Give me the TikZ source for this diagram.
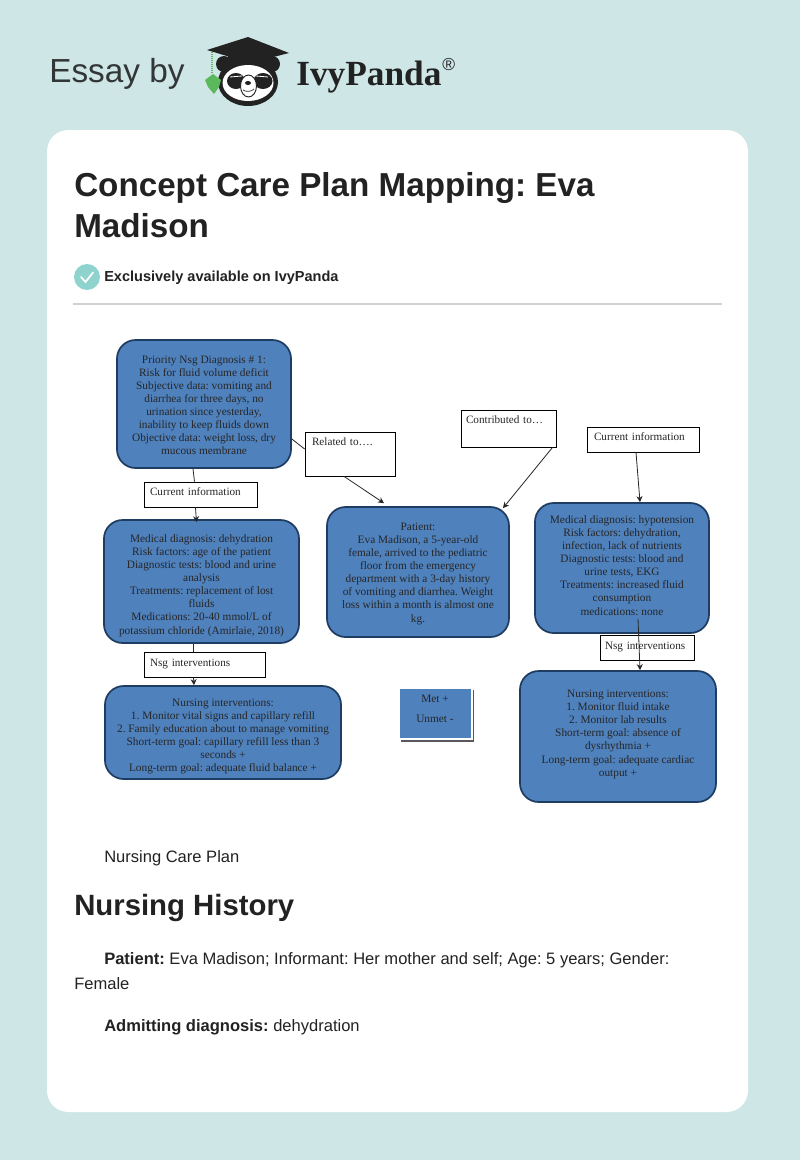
\documentclass[tikz,border=0pt]{standalone}
\usepackage{fontspec}
\usetikzlibrary{arrows.meta}
\setmainfont{Liberation Sans}
\newfontfamily\diagfont{Liberation Serif}
\def\px{0.75pt}
\newcommand{\topdrop}[1]{\rule{0pt}{#1}}
\newcommand{\botlift}[1]{\rule[-#1]{0pt}{#1}}
\definecolor{pagebg}{HTML}{CEE6E6}
\definecolor{boxblue}{HTML}{4F81BD}
\definecolor{boxedge}{HTML}{1F3D63}
\definecolor{inktext}{HTML}{222222}
\definecolor{tealcheck}{HTML}{8FD3CF}
\definecolor{leafgreen}{HTML}{5CB85C}
\tikzset{
  planbox/.style={draw=boxedge, line width=1.3pt, fill=boxblue, rounded corners=14pt, align=center, inner sep=0pt,
    text=black!85, font=\diagfont\fontsize{8.5pt}{9.8pt}\selectfont},
  tagbox/.style={draw=black, line width=0.6pt, fill=white, inner sep=0pt, text=black!85, align=left,
    font=\diagfont\fontsize{8.4pt}{9.8pt}\selectfont},
  pagetext/.style={anchor=base west, inner sep=0pt, text=inktext, font=\fontsize{12.4pt}{14pt}\selectfont},
  headtext/.style={anchor=base west, inner sep=0pt, text=inktext, font=\bfseries\fontsize{24.9pt}{30pt}\selectfont},
  link/.style={draw=black!85, line width=0.6pt},
  linkarrow/.style={link, -{Stealth[length=4.5pt, width=4.5pt]}},
}
\begin{document}
\frenchspacing
\begin{tikzpicture}[x=\px, y=-\px]
  \fill[pagebg] (0,0) rectangle (800,1160);
  \useasboundingbox (0,0) rectangle (800,1160);
  \fill[white, rounded corners=16pt] (47,130) rectangle (748,1112);
  % brand row
  \node[anchor=base west, inner sep=0pt, text=inktext!90!pagebg, font=\fontsize{25pt}{30pt}\selectfont] (essayby) at (49,82) {Essay by};
  \node[anchor=base west, inner sep=0pt, text=inktext, font=\diagfont\bfseries\fontsize{26.5pt}{30pt}\selectfont] (brand) at (296,85) {IvyPanda};
  \node[anchor=north west, inner sep=0pt, text=inktext, font=\fontsize{13pt}{14pt}\selectfont] (regmark) at (442,58) {\textregistered};
  % panda
  \fill[inktext] (224,64) circle (8);
  \fill[inktext] (272,64) circle (8);
  \fill[inktext] (248,82) ellipse (30 and 24);
  \fill[white] (248,83) ellipse (25.5 and 18);
  \fill[inktext] (228,55) -- (228,66) .. controls (238,63) and (258,63) .. (269,66) -- (269,55) -- cycle;
  \fill[inktext] (248,37) -- (207,50) -- (250,63) -- (289,53) -- cycle;
  \fill[inktext] (236,81) ellipse (9 and 8);
  \fill[inktext] (263,81) ellipse (9.5 and 8);
  \draw[white, line width=0.6pt] (230,77) -- (242,76);
  \draw[white, line width=0.6pt] (256,76) -- (268,77);
  \draw[inktext, line width=0.7pt, fill=white] (248.5,86) ellipse (8 and 11);
  \fill[inktext] (248,83) ellipse (3 and 2);
  \draw[inktext, line width=0.5pt] (243,90) .. controls (246,92) and (251,92) .. (254,89);
  \draw[leafgreen, line width=0.9pt, dash pattern=on 1pt off 0.5pt] (212,52) -- (212,74);
  \fill[leafgreen] (213,74) -- (221,80) -- (219,87) -- (214,94) -- (208,87) -- (205,80) -- cycle;
  % title
  \node[headtext] (titlea) at (74,196) {Concept Care Plan Mapping: Eva};
  \node[headtext] (titleb) at (74,237) {Madison};
  \node[fill=tealcheck, circle, minimum size=26*\px, inner sep=0pt] (checkdot) at (87,277) {};
  \draw[white, line width=1.3pt, line cap=round, line join=round] (81,277) -- (85.5,282) -- (93,272.5);
  \node[anchor=base west, inner sep=0pt, text=inktext, font=\bfseries\fontsize{10.9pt}{13pt}\selectfont] (exclusive) at (104,281) {Exclusively available on IvyPanda};
  \draw[black!18, line width=0.9pt] (73,304) -- (722,304);
  % plan boxes
  \node[planbox, minimum width=174*\px, minimum height=128*\px] (priority) at (204,404) {\topdrop{7.5pt}Priority Nsg Diagnosis \# 1:\\Risk for fluid volume deficit\\Subjective data: vomiting and\\diarrhea for three days, no\\urination since yesterday,\\inability to keep fluids down\\Objective data: weight loss, dry\\mucous membrane};
  \node[planbox, minimum width=195*\px, minimum height=123*\px] (meda) at (201.5,581.5) {\topdrop{12pt}Medical diagnosis: dehydration\\Risk factors: age of the patient\\Diagnostic tests: blood and urine\\analysis\\Treatments: replacement of lost\\fluids\\Medications: 20-40 mmol/L of\\potassium chloride (Amirlaie, 2018)};
  \node[planbox, minimum width=182*\px, minimum height=130*\px] (patient) at (418,572) {\topdrop{8.3pt}Patient:\\Eva Madison, a 5-year-old\\female, arrived to the pediatric\\floor from the emergency\\department with a 3-day history\\of vomiting and diarrhea. Weight\\loss within a month is almost one\\kg.};
  \node[planbox, minimum width=174*\px, minimum height=130*\px] (medb) at (622,568) {Medical diagnosis: hypotension\\Risk factors: dehydration,\\infection, lack of nutrients\\Diagnostic tests: blood and\\urine tests, EKG\\Treatments: increased fluid\\consumption\\medications: none\botlift{4pt}};
  \node[planbox, minimum width=236*\px, minimum height=93*\px] (nursea) at (223,732.5) {\topdrop{11.25pt}Nursing interventions:\\1. Monitor vital signs and capillary refill\\2. Family education about to manage vomiting\\Short-term goal: capillary refill less than 3\\seconds +\\Long-term goal: adequate fluid balance +};
  \node[planbox, minimum width=196*\px, minimum height=131*\px] (nurseb) at (618,736.5) {Nursing interventions:\\1. Monitor fluid intake\\2. Monitor lab results\\Short-term goal: absence of\\dysrhythmia +\\Long-term goal: adequate cardiac\\output +\botlift{5pt}};
  % key
  \node[fill=black!65, minimum width=73*\px, minimum height=52*\px, inner sep=0pt] (keyshadow) at (437.5,715.5) {};
  \node[fill=boxblue, draw=white, line width=1.5pt, minimum width=73*\px, minimum height=51*\px, align=center, inner sep=0pt, text=black!85,
    font=\diagfont\fontsize{8.5pt}{15pt}\selectfont] (key) at (435,713.5) {Met +\\Unmet -\botlift{7.5pt}};
  % tag boxes
  \node[tagbox, minimum width=113*\px, minimum height=25*\px, text width=101*\px, text height=9.75pt, text depth=9pt] (infoa) at (200.5,494.5) {Current information};
  \node[tagbox, minimum width=90*\px, minimum height=44*\px, text width=76*\px, text height=9.75pt, text depth=23.25pt] (related) at (350,454) {Related to….};
  \node[tagbox, minimum width=95*\px, minimum height=37*\px, text width=85*\px, text height=9.75pt, text depth=18pt] (contrib) at (508.5,428.5) {Contributed to…};
  \node[tagbox, minimum width=112*\px, minimum height=25*\px, text width=98*\px, text height=9.75pt, text depth=9pt] (infob) at (643,439.5) {Current information};
  \node[tagbox, minimum width=121*\px, minimum height=25*\px, text width=109*\px, text height=10.5pt, text depth=8.25pt] (nsga) at (204.5,664.5) {Nsg interventions};
  \node[tagbox, minimum width=94*\px, minimum height=25*\px, text width=84*\px, text height=10.5pt, text depth=8.25pt] (nsgb) at (647,647.5) {Nsg interventions};
  % connectors
  \draw[link] ([shift={(-11,0)}]priority.south) -- ([shift={(-6,0)}]infoa.north);
  \draw[linkarrow] ([shift={(-5,0)}]infoa.south) -- ([shift={(-5,3)}]meda.north);
  \draw[link] ([shift={(0,35)}]priority.east) -- ([shift={(0,-5)}]related.west);
  \draw[linkarrow] ([shift={(-6,0)}]related.south) -- ([shift={(-34,-3)}]patient.north);
  \draw[linkarrow] ([shift={(44,0)}]contrib.south) -- ([shift={(85,2)}]patient.north);
  \draw[linkarrow] ([shift={(-7,0)}]infob.south) -- ([shift={(18,0)}]medb.north);
  \draw[link] ([shift={(-8,0)}]meda.south) -- ([shift={(-11,0)}]nsga.north);
  \draw[linkarrow] ([shift={(-11,0)}]nsga.south) -- ([shift={(-29,0)}]nursea.north);
  \draw[linkarrow] ([shift={(16,-15)}]medb.south) -- ([shift={(22,0)}]nurseb.north);
  % page text
  \node[pagetext] (caption) at (104,862) {Nursing Care Plan};
  \node[headtext, font=\bfseries\fontsize{22pt}{26pt}\selectfont] (history) at (74,915) {Nursing History};
  \node[pagetext] (paraa) at (104,964) {\textbf{Patient:} Eva Madison; Informant: Her mother and self; Age: 5 years; Gender:};
  \node[pagetext] (parab) at (74,989) {Female};
  \node[pagetext] (parac) at (104,1031) {\textbf{Admitting diagnosis:} dehydration};
\end{tikzpicture}
\end{document}
